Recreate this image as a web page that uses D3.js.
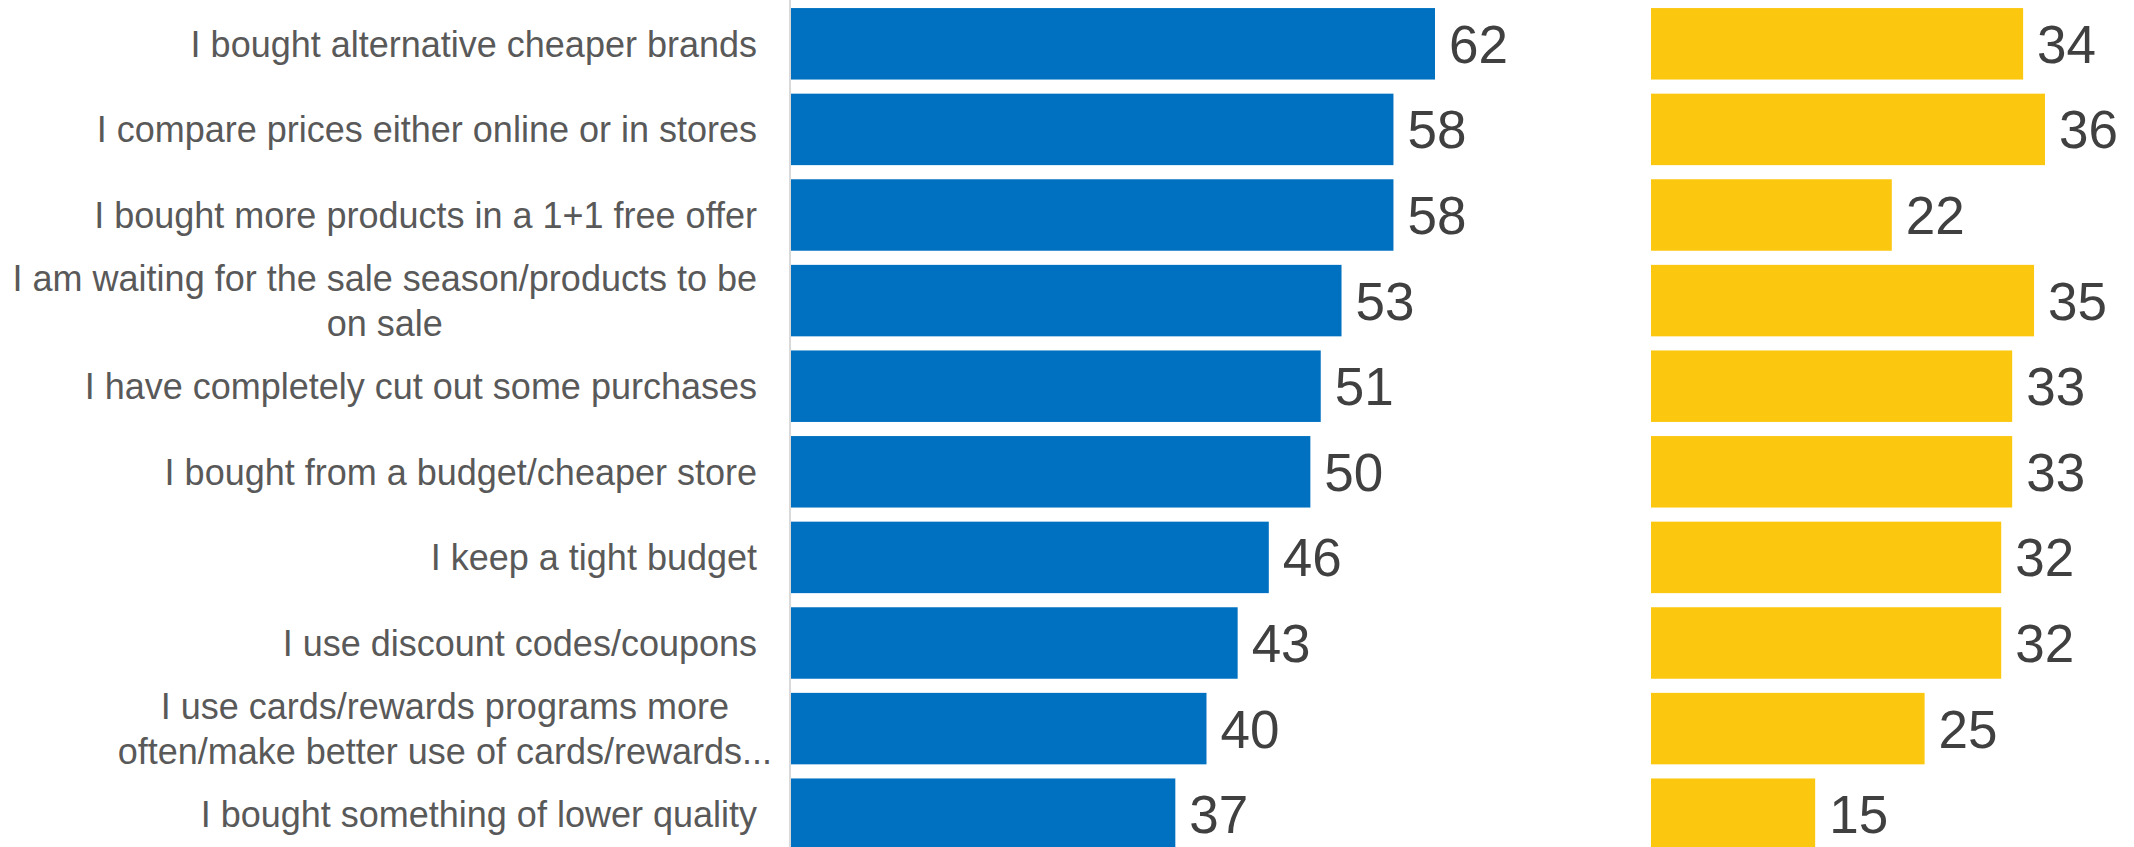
<!DOCTYPE html>
<html>
<head>
<meta charset="utf-8">
<script src="https://cdn.jsdelivr.net/npm/d3@7"></script>
<style>
  html, body { margin: 0; padding: 0; background: #ffffff; }
  svg { display: block; }
</style>
</head>
<body>
<svg id="chart" width="2134" height="847"></svg>
<script>
// Cost-saving behaviours: two series shown as side-by-side horizontal bar panels
const categories = [
  "I bought alternative cheaper brands",
  "I compare prices either online or in stores",
  "I bought more products in a 1+1 free offer",
  "I am waiting for the sale season/products to be\non sale",
  "I have completely cut out some purchases",
  "I bought from a budget/cheaper store",
  "I keep a tight budget",
  "I use discount codes/coupons",
  "I use cards/rewards programs more\noften/make better use of cards/rewards...",
  "I bought something of lower quality"
];
const seriesBlue = [62, 58, 58, 53, 51, 50, 46, 43, 40, 37];
const seriesGold = [34, 36, 22, 35, 33, 33, 32, 32, 25, 15];

const W = 2134, H = 847;
const svg = d3.select("#chart");

const y = d3.scaleBand()
  .domain(d3.range(categories.length))
  .range([1, 857])
  .paddingInner(0.165)
  .paddingOuter(0.0825);

const xBlue = d3.scaleLinear().domain([0, d3.max(seriesBlue)]).range([791, 1435]);
const xGold = d3.scaleLinear().domain([0, d3.max(seriesGold)]).range([1651, 2045]);

const labelRight = 757;
const labelFont = "Liberation Sans, Arial, sans-serif";
const valueFont = "Liberation Sans, Arial, sans-serif";

// category axis line
svg.append("line")
  .attr("x1", 790).attr("x2", 790)
  .attr("y1", 0).attr("y2", H)
  .attr("stroke", "#d9d9d9")
  .attr("stroke-width", 2);

function drawPanel(values, x, color) {
  const g = svg.append("g");
  g.selectAll("rect")
    .data(values)
    .join("rect")
    .attr("x", x(0))
    .attr("y", (d, i) => y(i))
    .attr("width", d => x(d) - x(0))
    .attr("height", y.bandwidth())
    .attr("fill", color);

  g.selectAll("text")
    .data(values)
    .join("text")
    .attr("x", d => x(d) + 14)
    .attr("y", (d, i) => y(i) + y.bandwidth() / 2)
    .attr("dy", "0.36em")
    .attr("font-family", valueFont)
    .attr("font-size", 53)
    .attr("fill", "#404040")
    .text(d => d);
}

drawPanel(seriesBlue, xBlue, "#0070C0");
drawPanel(seriesGold, xGold, "#FCC70F");

// category labels; wrapped lines are centred within a right-aligned block,
// and a trailing ellipsis is allowed to hang past the block edge
const lineGap = 45;
const labels = svg.append("g")
  .attr("font-family", labelFont)
  .attr("font-size", 36)
  .attr("fill", "#595959");

const measure = labels.append("text").attr("visibility", "hidden");
function textWidth(s) {
  measure.text(s);
  return measure.node().getComputedTextLength();
}

categories.forEach((cat, i) => {
  const lines = cat.split("\n");
  const cy = y(i) + y.bandwidth() / 2;
  const t = labels.append("text");
  const spans = lines.map((ln, k) =>
    t.append("tspan")
      .attr("y", cy + (k - (lines.length - 1) / 2) * lineGap)
      .attr("dy", "0.36em")
      .text(ln)
  );
  if (lines.length === 1) {
    t.attr("text-anchor", "end");
    spans[0].attr("x", labelRight);
  } else {
    const widest = d3.max(lines, ln => textWidth(ln.replace(/\.\.\.$/, "")));
    t.attr("text-anchor", "middle");
    spans.forEach(s => s.attr("x", labelRight - widest / 2));
  }
});
measure.remove();
</script>
</body>
</html>
